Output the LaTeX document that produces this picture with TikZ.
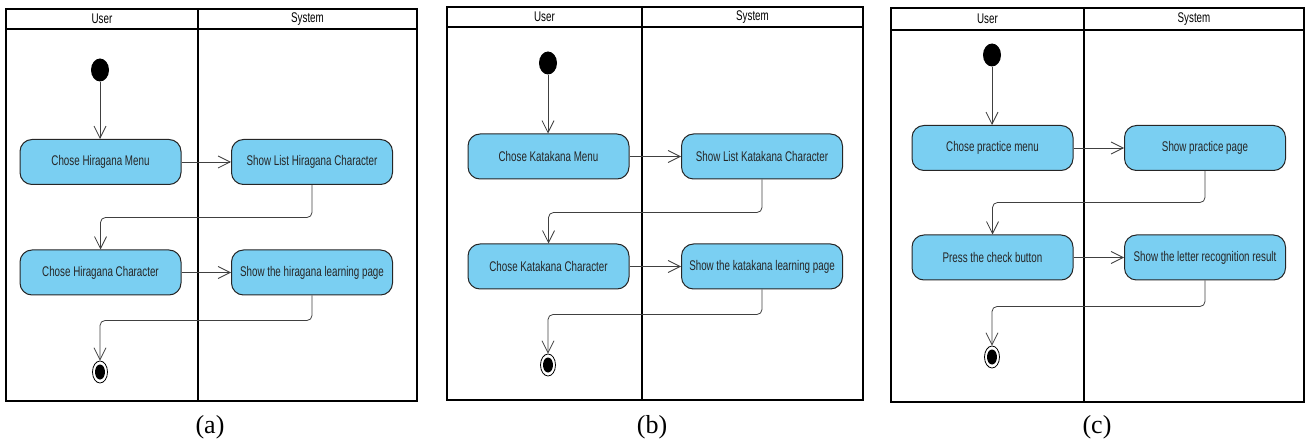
\documentclass[tikz,border=0pt]{standalone}
\usepackage{fontspec}
\setmainfont{Liberation Serif}
\newfontfamily\umlfont[FakeStretch=0.7]{Liberation Sans}
\usepackage{tikz}
\usetikzlibrary{arrows.meta}
\usetikzlibrary{calc}
\usetikzlibrary{shapes.geometric}
\definecolor{actblue}{RGB}{122,207,242}
\definecolor{flowgray}{RGB}{64,64,64}
\tikzstyle{lane}=[line width=1.6pt]
\tikzstyle{lanehead}=[font=\umlfont\fontsize{14}{14}\selectfont]
\tikzstyle{action}=[draw=black!85,line width=1pt,fill=actblue,rounded corners=12pt,minimum width=161pt,minimum height=45pt,inner sep=2pt,font=\umlfont\fontsize{14}{14}\selectfont,text=black!85]
\tikzstyle{startdot}=[ellipse,fill=black,minimum width=18pt,minimum height=23pt,inner sep=0pt]
\tikzstyle{enddot}=[ellipse,draw,line width=.8pt,minimum width=15pt,minimum height=22pt,inner sep=0pt,path picture={\fill (path picture bounding box.center) ellipse [x radius=5pt,y radius=7.5pt];}]
\tikzstyle{flow}=[draw=flowgray,line width=.8pt,rounded corners=5pt,-{Straight Barb[length=12pt,width=12pt]}]
\tikzstyle{caption}=[font=\fontsize{26}{26}\selectfont]

\begin{document}
\begin{tikzpicture}[x=1pt,y=-1pt]
	\useasboundingbox (0,0) rectangle (1306,446);
	% (a) hiragana
	\draw[lane] (6,9) rectangle (417,401);
	\draw[lane] (6,29) -- (417,29);
	\draw[lane] (198,9) -- (198,401);
	\node[lanehead] (a-user) at (102,19)   {User};
	\node[lanehead] (a-sys)  at (307.5,19) {System};
	\node[startdot] (a-start) at (100,70) {};
	\node[action] (a-menu) at (100.5,162)  {Chose Hiragana Menu};
	\node[action] (a-list) at (312,162)    {Show List Hiragana Character};
	\node[action] (a-char) at (100.5,272.5){Chose Hiragana Character};
	\node[action] (a-page) at (312,272.5)  {Show the hiragana learning page};
	\node[enddot] (a-end) at (100,372) {};
	\draw[flow] (a-start) -- (a-start |- a-menu.north);
	\draw[flow] (a-menu) -- (a-list);
	\draw[flow] (a-list) -- ($(a-list.south)+(0,32.5)$) -| (a-char);
	\draw[flow] (a-char) -- (a-page);
	\draw[flow] (a-page) -- ($(a-page.south)+(0,25)$) -| (a-end);
	\node[caption] (a-cap) at (210,427) {(a)};
	% (b) katakana
	\draw[lane] (447,7) rectangle (863,400);
	\draw[lane] (447,27) -- (863,27);
	\draw[lane] (642,7) -- (642,400);
	\node[lanehead] (b-user) at (544.5,17) {User};
	\node[lanehead] (b-sys)  at (752.5,17) {System};
	\node[startdot] (b-start) at (548,63) {};
	\node[action] (b-menu) at (548.5,156.5){Chose Katakana Menu};
	\node[action] (b-list) at (762,156.5)  {Show List Katakana Character};
	\node[action] (b-char) at (548.5,266.5){Chose Katakana Character};
	\node[action] (b-page) at (762,266.5)  {Show the katakana learning page};
	\node[enddot] (b-end) at (548,365) {};
	\draw[flow] (b-start) -- (b-start |- b-menu.north);
	\draw[flow] (b-menu) -- (b-list);
	\draw[flow] (b-list) -- ($(b-list.south)+(0,33)$) -| (b-char);
	\draw[flow] (b-char) -- (b-page);
	\draw[flow] (b-page) -- ($(b-page.south)+(0,25)$) -| (b-end);
	\node[caption] (b-cap) at (652,427) {(b)};
	% (c) practice
	\draw[lane] (891,8) rectangle (1304,402);
	\draw[lane] (891,30) -- (1304,30);
	\draw[lane] (1084,8) -- (1084,402);
	\node[lanehead] (c-user) at (987.5,19) {User};
	\node[lanehead] (c-sys)  at (1194,19)  {System};
	\node[startdot] (c-start) at (992,55) {};
	\node[action] (c-menu)   at (992.5,148)  {Chose practice menu};
	\node[action] (c-list)   at (1205,148)   {Show practice page};
	\node[action] (c-check)  at (992.5,257.5){Press the check button};
	\node[action] (c-result) at (1205,257.5) {Show the letter recognition result};
	\node[enddot] (c-end) at (992,357) {};
	\draw[flow] (c-start) -- (c-start |- c-menu.north);
	\draw[flow] (c-menu) -- (c-list);
	\draw[flow] (c-list) -- ($(c-list.south)+(0,31.5)$) -| (c-check);
	\draw[flow] (c-check) -- (c-result);
	\draw[flow] (c-result) -- ($(c-result.south)+(0,26)$) -| (c-end);
	\node[caption] (c-cap) at (1097,427) {(c)};
\end{tikzpicture}
\end{document}
